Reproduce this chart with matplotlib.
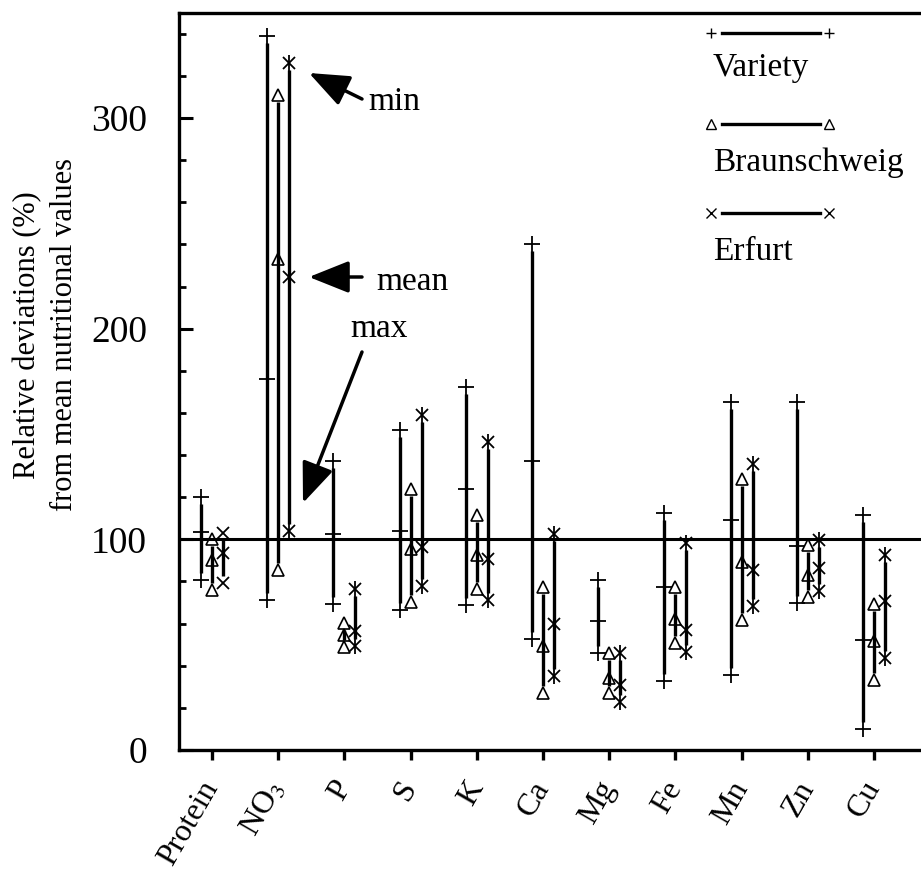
import numpy as np
import matplotlib
matplotlib.use('Agg')
import matplotlib.pyplot as plt
from matplotlib.lines import Line2D
from matplotlib.ticker import MultipleLocator

plt.rcParams['font.family'] = ['Liberation Serif', 'DejaVu Serif']
plt.rcParams['mathtext.fontset'] = 'stix'

# categories on the x axis
categories = ['Protein', r'NO$_3$', 'P', 'S', 'K', 'Ca', 'Mg', 'Fe', 'Mn', 'Zn', 'Cu']

# values: upper end, mean, lower end of every bar (%)
variety_upper = [120.0, 339.0, 137.4, 151.7, 172.5, 240.0, 80.7, 112.5, 165.0, 165.0, 111.7]
variety_mean = [103.5, 176.0, 102.7, 103.8, 123.7, 137.4, 61.3, 77.4, 109.0, 96.7, 52.1]
variety_lower = [80.6, 71.0, 69.5, 66.5, 69.0, 52.5, 46.2, 32.7, 35.5, 69.8, 9.8]

braun_upper = [100.3, 310.7, 60.5, 123.7, 111.4, 77.4, 46.1, 77.4, 128.8, 97.2, 69.5]
braun_mean = [90.0, 233.3, 54.6, 95.6, 92.4, 49.3, 34.0, 62.4, 89.3, 82.9, 51.8]
braun_lower = [75.8, 85.6, 49.0, 70.2, 76.5, 27.2, 26.9, 50.6, 61.8, 72.7, 33.2]

erfurt_upper = [103.2, 325.9, 76.6, 159.1, 146.1, 102.7, 46.1, 98.4, 135.9, 99.8, 92.4]
erfurt_mean = [93.7, 224.3, 56.4, 96.4, 90.8, 60.0, 30.8, 56.9, 85.3, 86.4, 70.8]
erfurt_lower = [79.3, 103.9, 49.2, 77.8, 71.0, 35.1, 22.9, 46.3, 68.2, 75.4, 43.5]

W, H = 921, 875


def px(x, y):
    # pixel position in the picture -> figure fraction
    return x / W, 1 - y / H


fig = plt.figure(figsize=(W / 100, H / 100), dpi=100)
ax = fig.add_axes([179 / W, 1 - 750 / H, 1 - 179 / W, (750 - 12.7) / H])
ax.set_xlim(-0.5, 10.71)
ax.set_ylim(0, 350)

for side in ['top', 'left', 'bottom']:
    ax.spines[side].set_linewidth(2.4)
ax.spines['right'].set_visible(False)

ax.axhline(100, color='k', lw=2.2, zorder=1)

x = np.arange(len(categories))
off = 0.166
gap = 7 / (737.3 / 350)  # small gap between bar ends and end markers

series = [
    (x - off, variety_upper, variety_mean, variety_lower),
    (x, braun_upper, braun_mean, braun_lower),
    (x + off, erfurt_upper, erfurt_mean, erfurt_lower),
]
for xs, up, mn, lo in series:
    ax.vlines(xs, np.array(lo) + gap, np.array(up) - gap, color='k', lw=2.4, zorder=2)

mk = dict(ls='none', color='k', zorder=3)
# Variety: plus signs
for vals in (variety_upper, variety_mean, variety_lower):
    ax.plot(x - off, vals, marker='+', ms=11, mew=1.3, **mk)
# Braunschweig: open triangles
for vals in (braun_upper, braun_mean, braun_lower):
    ax.plot(x, vals, marker='^', ms=9, mew=1.2, mfc='none', **mk)
# Erfurt: crosses for protein, asterisks for the rest
for vals in (erfurt_upper, erfurt_mean, erfurt_lower):
    ax.plot(x + off, vals, marker='x', ms=8, mew=1.3, **mk)
    ax.plot(x[1:] + off, vals[1:], marker='|', ms=11, mew=1.3, **mk)

ax.set_xticks(x)
ax.set_xticklabels(categories, rotation=60, ha='right', va='center',
                   rotation_mode='anchor', fontsize=23)
ax.tick_params(axis='x', direction='out', length=7, width=2.4, pad=17)
ax.yaxis.set_major_locator(MultipleLocator(100))
ax.yaxis.set_minor_locator(MultipleLocator(20))
ax.tick_params(axis='y', which='major', direction='in', length=10, width=2.2,
               labelsize=27, pad=23)
ax.tick_params(axis='y', which='minor', direction='in', length=5, width=2.0)

fig.text(*px(46, 335), 'Relative deviations (%)\nfrom mean nutritional values',
         rotation=90, ha='center', va='center', multialignment='center',
         fontsize=22, linespacing=1.35)

# legend drawn by hand: marker-line-marker above each name
legend_rows = [('+', 'Variety', 33, 68), ('^', 'Braunschweig', 124, 163), ('x', 'Erfurt', 213, 252)]
for m, name, ly, ty in legend_rows:
    x0, y0 = px(722, ly)
    x1, _ = px(820, ly)
    fig.add_artist(Line2D([x0, x1], [y0, y0], color='k', lw=2.4))
    xa, _ = px(711, ly)
    xb, _ = px(829, ly)
    fig.add_artist(Line2D([xa, xb], [y0, y0], ls='none', marker=m, ms=7,
                          mew=1.0, mfc='none', color='k'))
    fig.text(*px(713, ty), name, fontsize=24, ha='left', va='center')

# annotations
arrow = dict(arrowstyle='-|>,head_length=0.55,head_width=0.22', color='k', lw=2.5,
             mutation_scale=45, shrinkA=0, shrinkB=0)
for label, tail, tip, tx, ty in [
        ('min', (362, 99), (309, 73), 368, 110),
        ('mean', (362, 277), (309, 277), 376, 290),
        ('max', (362, 352), (303, 503), 350, 337)]:
    ax.annotate('', xy=px(*tip), xytext=px(*tail), xycoords='figure fraction',
                textcoords='figure fraction', arrowprops=arrow)
    fig.text(*px(tx, ty), label, fontsize=24, ha='left', va='baseline')

fig.savefig('out.png', dpi=100)
